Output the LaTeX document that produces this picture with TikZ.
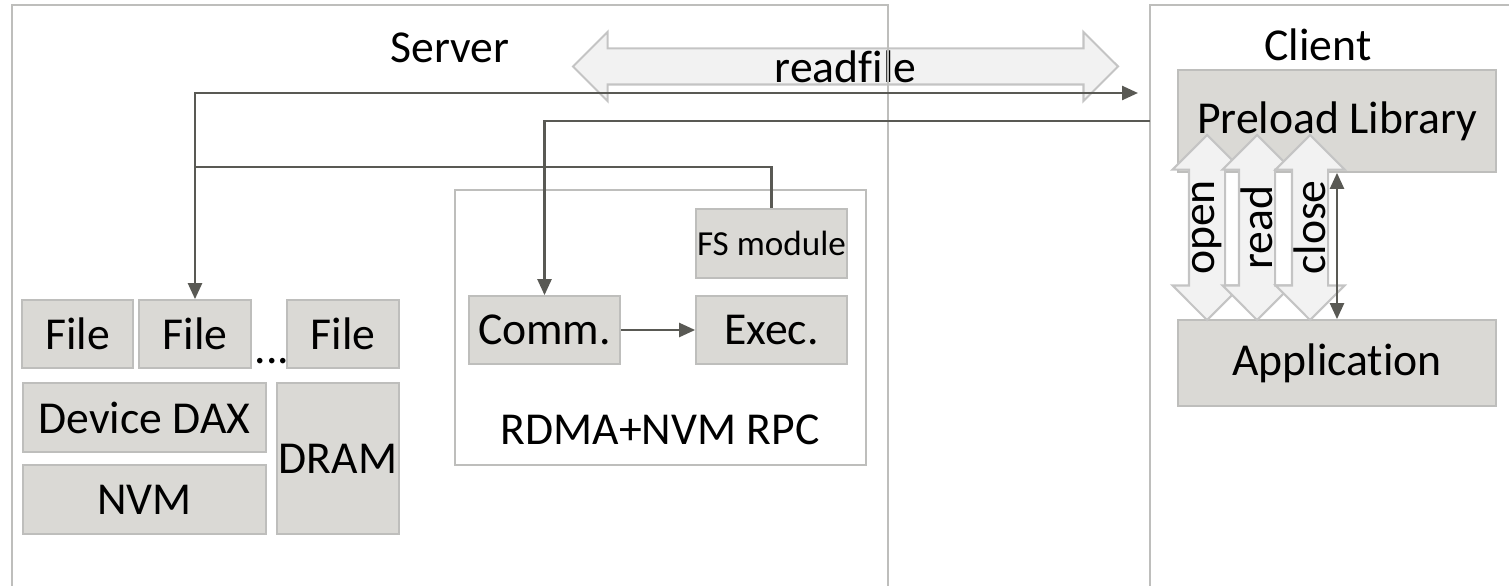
\documentclass[tikz,border=0pt]{standalone}
\usepackage{fontspec}
\setmainfont{Carlito}[Ligatures=NoCommon]
\usetikzlibrary{arrows.meta,shapes.arrows}
\definecolor{boxfill}{RGB}{218,217,213}
\definecolor{boxline}{RGB}{190,190,188}
\definecolor{wireline}{RGB}{89,89,84}
\definecolor{fatfill}{RGB}{242,242,242}
\definecolor{fatline}{RGB}{196,196,196}
\tikzset{
  blk/.style={draw=boxline, fill=boxfill, line width=0.5pt, inner sep=0pt},
  frame/.style={draw=boxline, line width=0.6pt},
  wire/.style={draw=wireline, line width=0.7pt},
  fat/.style={shape=double arrow, draw=fatline, fill=fatfill, line width=0.6pt, inner sep=0pt,
    text height=0.17cm, text depth=0.17cm, double arrow head extend=0.165cm, double arrow tip angle=90},
}
\begin{document}
\begin{tikzpicture}[font=\fontsize{13}{15.6}\selectfont, >={Triangle[length=1.6mm,width=1.4mm]}]
    \useasboundingbox (0,0) rectangle (15.09,-5.86);
    %readfile arrow
    \node[fat, minimum height=5.45cm, label={center:readfile}] (rf) at (8.455,-0.665) {};
    %server and client frames
    \draw [frame] (0.12,-5.86) -- (0.12,-0.05) -- (8.88,-0.05) -- (8.88,-5.86);
    \draw [frame] (11.50,-5.86) -- (11.50,-0.05) -- (15.09,-0.05);
    \node (server) at (4.50,-0.48) {Server};
    \node (client) at (13.18,-0.45) {Client};
    %storage
    \node[blk, minimum width=1.11cm, minimum height=0.68cm] (file1) at (0.775,-3.34) {File};
    \node[blk, minimum width=1.12cm, minimum height=0.68cm] (file2) at (1.95,-3.34) {File};
    \node[blk, minimum width=1.12cm, minimum height=0.68cm] (file3) at (3.43,-3.34) {File};
    \node[anchor=base, inner sep=0pt] (dots) at (2.72,-3.63) {...};
    \node[blk, minimum width=2.43cm, minimum height=0.69cm] (dax) at (1.445,-4.175) {Device DAX};
    \node[blk, minimum width=2.43cm, minimum height=0.69cm] (nvm) at (1.445,-4.995) {NVM};
    \node[blk, minimum width=1.22cm, minimum height=1.51cm] (dram) at (3.38,-4.585) {DRAM};
    %rpc
    \node[frame, minimum width=4.11cm, minimum height=2.75cm] (rpc) at (6.605,-3.275) {};
    \node (rpctxt) at (6.60,-4.30) {RDMA+NVM RPC};
    \node[blk, minimum width=1.51cm, minimum height=0.69cm, font=\fontsize{10}{12}\selectfont] (fs) at (7.715,-2.435) {FS module};
    \node[blk, minimum width=1.51cm, minimum height=0.68cm] (comm) at (5.445,-3.30) {Comm.};
    \node[blk, minimum width=1.51cm, minimum height=0.68cm] (exec) at (7.715,-3.30) {Exec.};
    %client side
    \node[blk, minimum width=3.18cm, minimum height=1.02cm] (pre) at (13.37,-1.21) {Preload Library};
    \node[blk, minimum width=3.18cm, minimum height=0.86cm] (app) at (13.37,-3.63) {Application};
    \node[fat, rotate=90, minimum height=1.85cm, label={[rotate=90]center:open}] (open) at (12.07,-2.275) {};
    \node[fat, rotate=90, minimum height=1.85cm, label={[rotate=90]center:read}] (read) at (12.57,-2.275) {};
    \node[fat, rotate=90, minimum height=1.85cm, label={[rotate=90]center:close}] (close) at (13.10,-2.275) {};
    %draw lines
    \coordinate (rfend) at (11.38,-0.93);
    \coordinate (cl) at (11.50,-1.21);
    \coordinate (jn) at (1.95,-1.67);
    \coordinate (cx) at (13.37,0);
    \draw [wire,<->] (file2.north) |- (rfend);
    \draw [wire,->] (cl) -| (comm.north);
    \draw [wire] (fs.north) |- (jn);
    \draw [wire,->] (comm) -- (exec);
    \draw [wire,<->] (pre.south -| cx) -- (app.north -| cx);
\end{tikzpicture}
\end{document}
